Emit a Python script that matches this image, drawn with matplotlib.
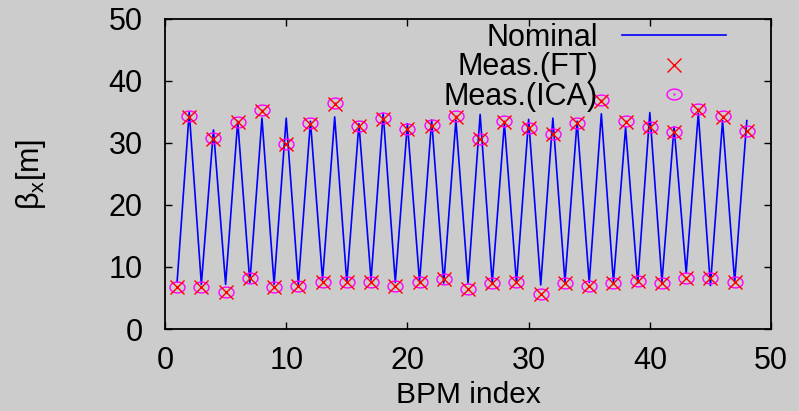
import numpy as np
import matplotlib
matplotlib.use("Agg")
import matplotlib.pyplot as plt
from matplotlib.path import Path

plt.rcParams['font.family'] = ['Liberation Sans', 'DejaVu Sans']
plt.rcParams['mathtext.fontset'] = 'custom'
plt.rcParams['mathtext.rm'] = 'Liberation Sans'
plt.rcParams['mathtext.it'] = 'Liberation Sans'

# beta function at each BPM
bpm = list(range(1, 49))
beta_nominal = [7.6, 35.0, 7.2, 32.1, 7.2, 33.5, 7.5, 34.0, 7.2, 34.0,
                7.2, 33.5, 7.9, 34.2, 7.5, 33.1, 7.9, 34.8, 7.5, 33.1,
                7.6, 33.7, 7.4, 33.7, 7.4, 34.6, 7.4, 33.2, 7.4, 33.8,
                7.1, 34.0, 7.6, 33.5, 7.5, 34.7, 7.5, 32.5, 7.4, 34.9,
                7.6, 32.6, 9.0, 34.8, 7.0, 33.6, 7.6, 33.6]
beta_ft = [6.8, 34.2, 6.8, 30.7, 6.0, 33.3, 8.3, 35.2, 6.8, 29.8,
           7.0, 33.1, 7.5, 36.3, 7.6, 32.7, 7.5, 33.9, 7.0, 32.3,
           7.5, 32.8, 8.0, 34.2, 6.5, 30.6, 7.4, 33.4, 7.5, 32.4,
           5.6, 31.4, 7.4, 33.2, 7.0, 36.8, 7.4, 33.4, 7.7, 32.6,
           7.4, 31.8, 8.3, 35.3, 8.2, 34.2, 7.6, 32.0]
beta_ica = [6.8, 34.3, 6.8, 30.8, 6.0, 33.4, 8.3, 35.3, 6.8, 29.8,
            7.0, 33.2, 7.5, 36.4, 7.6, 32.8, 7.5, 34.0, 7.0, 32.3,
            7.5, 32.9, 8.0, 34.3, 6.5, 30.6, 7.4, 33.5, 7.5, 32.4,
            5.6, 31.4, 7.4, 33.2, 7.0, 36.9, 7.4, 33.5, 7.7, 32.6,
            7.4, 31.8, 8.3, 35.4, 8.2, 34.3, 7.6, 32.0]

xticks = [0, 10, 20, 30, 40, 50]
yticks = [0, 10, 20, 30, 40, 50]

# flattened circle with a dot in the middle
t = np.linspace(0, 2 * np.pi, 60)
ell = np.column_stack([np.cos(t), 0.72 * np.sin(t)])
dot = np.column_stack([0.06 * np.cos(t), 0.06 * np.sin(t)])
codes = [Path.MOVETO] + [Path.LINETO] * (len(t) - 2) + [Path.CLOSEPOLY]
ell_marker = Path(np.vstack([ell, dot]), codes + codes)

bg = '#cccccc'
fig = plt.figure(figsize=(7.99, 4.11), dpi=100, facecolor=bg)
ax = fig.add_axes([0.2065, 0.1995, 0.7585, 0.7545], facecolor=bg)

ax.plot(bpm, beta_nominal, color='#0000ff', lw=1.2, label='Nominal', zorder=2)
ax.plot(bpm, beta_ica, ls='none', marker=ell_marker, ms=10.8, mfc='none',
        mec='#ff00ff', mew=1.0, label='Meas.(ICA)', zorder=3)
ax.plot(bpm, beta_ft, ls='none', marker='x', ms=9.5, mec='#ff0000',
        mew=1.0, label='Meas.(FT)', zorder=4)

ax.set_xlim(0, 50)
ax.set_ylim(0, 50)
ax.set_xticks(xticks)
ax.set_yticks(yticks)
ax.tick_params(direction='in', length=5, width=1.0, top=True, right=True,
               labelsize=22, pad=12)
ax.tick_params(axis='y', pad=16)
for s in ax.spines.values():
    s.set_linewidth(1.3)

ax.set_xlabel('BPM index', fontsize=21.5, labelpad=4)
ax.set_ylabel(r'$\beta_\mathrm{x}$[m]', fontsize=22, labelpad=44)

h, l = ax.get_legend_handles_labels()
order = [0, 2, 1]
ax.legend([h[i] for i in order], [l[i] for i in order], loc='upper right',
          bbox_to_anchor=(0.926, 0.987), frameon=False, markerfirst=False,
          fontsize=22, handlelength=3.4, handletextpad=0.8,
          labelspacing=-0.02, borderpad=0, borderaxespad=0)

fig.savefig('out.png', dpi=100, facecolor=bg)
